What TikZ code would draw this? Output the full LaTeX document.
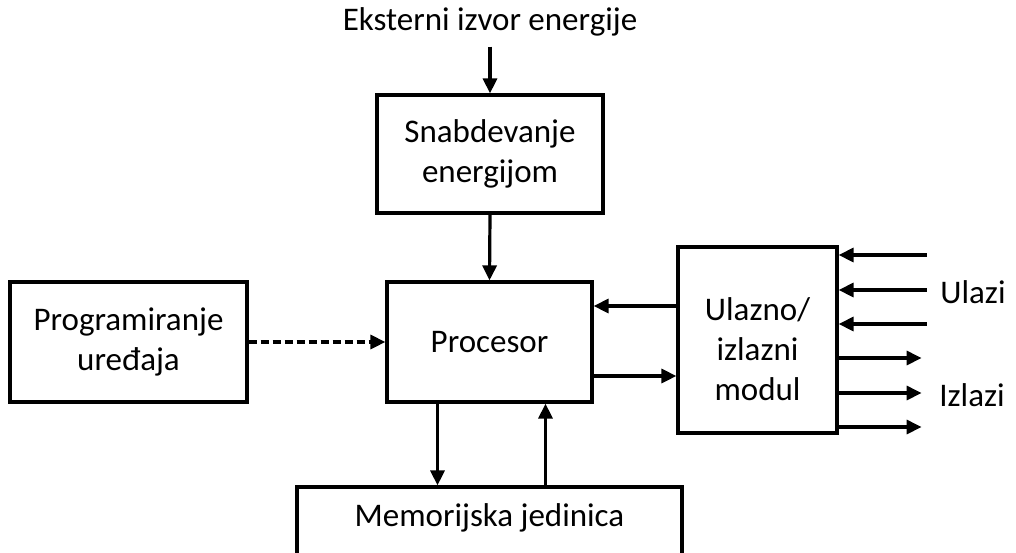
\documentclass[tikz,border=0pt]{standalone}
\usepackage{fontspec}
\setmainfont{Carlito}
\usetikzlibrary{arrows.meta}

\tikzset{
    blok/.style={draw, line width=1.6pt, inner sep=0pt, align=center},
    strelica/.style={line width=1.6pt, -{Triangle[length=7.5pt,width=7pt]}},
    oznaka/.style={inner sep=0pt, align=center}
}

\begin{document}
\begin{tikzpicture}[x=0.5pt, y=-0.5pt, font=\fontsize{16.5}{20}\selectfont]
\clip (0,0) rectangle (1016,552);

\node[oznaka] (izvor) at (490,22) {Eksterni izvor energije};
\node[blok, minimum width=113pt, minimum height=59pt] (napajanje) at (490,154) {Snabdevanje\\energijom};
\node[blok, minimum width=102.5pt, minimum height=60pt] (procesor) at (489.5,342) {Procesor};
\node[blok, minimum width=118.5pt, minimum height=60pt] (program) at (128.5,342) {Programiranje\\uređaja};
\node[blok, minimum width=79.5pt, minimum height=93pt] (io) at (757.5,340) {};
\node[oznaka] (iotekst) at (757.5,349) {Ulazno/\\izlazni\\modul};
\node[blok, minimum width=192.5pt, minimum height=38pt] (memorija) at (489.5,525) {};
\node[oznaka] (memtekst) at (489.5,518) {Memorijska jedinica};
\node[oznaka] (ulazi) at (973,292) {Ulazi};
\node[oznaka] (izlazi) at (972,395) {Izlazi};

\draw[strelica] ([yshift=-5pt]izvor.south) -- (napajanje.north);
\draw[strelica] (napajanje.south) -- (procesor.north);
\draw[strelica, dash pattern=on 4pt off 2pt] (program.east) -- (procesor.west);
\draw[strelica] ([yshift=17pt]io.west) -- ([yshift=17pt]io.west -| procesor.east);
\draw[strelica] ([yshift=-17pt]procesor.east) coordinate (p1) -- (p1 -| io.west);
\draw[strelica] ([xshift=-26pt]procesor.south) -- ([xshift=-26pt]procesor.south |- memorija.north);
\draw[strelica] ([xshift=28pt]procesor.south |- memorija.north) -- ([xshift=28pt]procesor.south);

% ulazi i izlazi
\foreach \d in {42.5,25,8}{
    \coordinate (u) at ([xshift=44pt,yshift=\d pt]io.east);
    \draw[strelica] (u) -- (u -| io.east);
}
\foreach \d in {-9,-26.5,-43.5}{
    \coordinate (i) at ([yshift=\d pt]io.east);
    \draw[strelica] (i) -- ++(41.5pt,0);
}

\end{tikzpicture}
\end{document}
